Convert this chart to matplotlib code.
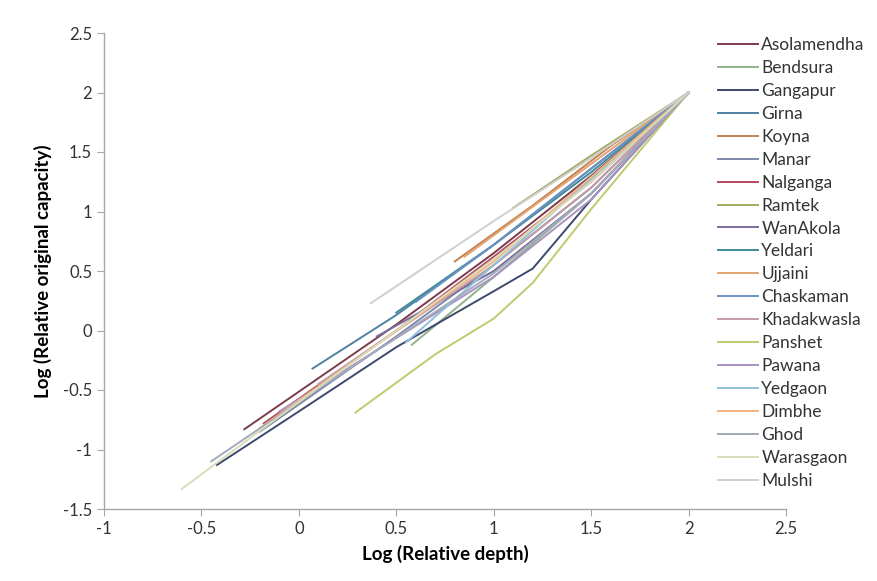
import matplotlib
matplotlib.use("Agg")
import matplotlib.pyplot as plt

names = ["Asolamendha", "Bendsura", "Gangapur", "Girna", "Koyna", "Manar", "Nalganga",
         "Ramtek", "WanAkola", "Yeldari", "Ujjaini", "Chaskaman", "Khadakwasla", "Panshet",
         "Pawana", "Yedgaon", "Dimbhe", "Ghod", "Warasgaon", "Mulshi"]

colors = ["#7b3c4c", "#8fb38a", "#3d4a6e", "#4f80a2", "#c5824e", "#7d8aab", "#b44a5c",
          "#a3aa62", "#7b6b9a", "#3f8c9c", "#e2a472", "#6b92c2", "#c49ca3", "#bccb6e",
          "#a991c2", "#8fc2da", "#f0b282", "#a2aabb", "#d9dcb8", "#cfcfcf"]

x_data = [
    [-0.28, 0.5, 1.0, 1.5, 2.0],            # Asolamendha
    [0.58, 1.0, 1.5, 2.0],                  # Bendsura
    [-0.42, 0.0, 0.5, 1.0, 1.2, 1.5, 2.0],  # Gangapur
    [0.07, 0.5, 1.0, 1.5, 2.0],             # Girna
    [0.8, 1.2, 1.6, 2.0],                   # Koyna
    [-0.2, 0.5, 1.0, 1.5, 2.0],             # Manar
    [-0.18, 0.5, 1.0, 1.5, 2.0],            # Nalganga
    [1.1, 1.5, 2.0],                        # Ramtek
    [0.4, 1.0, 1.5, 2.0],                   # WanAkola
    [0.5, 1.0, 1.5, 2.0],                   # Yeldari
    [0.85, 1.5, 2.0],                       # Ujjaini
    [0.6, 1.0, 1.5, 2.0],                   # Chaskaman
    [0.1, 1.0, 1.5, 2.0],                   # Khadakwasla
    [0.29, 0.7, 1.0, 1.2, 1.5, 2.0],        # Panshet
    [-0.1, 1.0, 1.5, 2.0],                  # Pawana
    [0.55, 1.0, 2.0],                       # Yedgaon
    [-0.2, 1.0, 2.0],                       # Dimbhe
    [-0.45, 0.0, 1.0, 1.5, 2.0],            # Ghod
    [-0.6, 0.0, 1.0, 1.5, 2.0],             # Warasgaon
    [0.37, 1.0, 1.5, 2.0],                  # Mulshi
]
y_data = [
    [-0.83, 0.05, 0.65, 1.3, 2.0],
    [-0.12, 0.45, 1.15, 2.0],
    [-1.13, -0.68, -0.14, 0.33, 0.52, 1.1, 2.0],
    [-0.32, 0.13, 0.72, 1.36, 2.0],
    [0.58, 1.05, 1.55, 2.0],
    [-0.85, -0.05, 0.55, 1.2, 2.0],
    [-0.78, 0.0, 0.62, 1.25, 2.0],
    [1.03, 1.47, 2.0],
    [-0.05, 0.5, 1.15, 2.0],
    [0.15, 0.72, 1.33, 2.0],
    [0.62, 1.4, 2.0],
    [0.24, 0.72, 1.36, 2.0],
    [-0.45, 0.55, 1.2, 2.0],
    [-0.69, -0.2, 0.1, 0.4, 1.02, 2.0],
    [-0.68, 0.45, 1.1, 2.0],
    [-0.1, 0.55, 2.0],
    [-0.82, 0.58, 2.0],
    [-1.1, -0.6, 0.48, 1.15, 2.0],
    [-1.33, -0.6, 0.6, 1.25, 2.0],
    [0.23, 0.92, 1.45, 2.0],
]

x_ticks = [-1, -0.5, 0, 0.5, 1, 1.5, 2, 2.5]
y_ticks = [-1.5, -1, -0.5, 0, 0.5, 1, 1.5, 2, 2.5]

plt.rcParams['font.family'] = ['Lato', 'DejaVu Sans']

fig = plt.figure(figsize=(8.77, 5.81), dpi=100)
ax = fig.add_axes([104/877, 1-509/581, (786-104)/877, (509-33)/581])

for n, c, xs, ys in zip(names, colors, x_data, y_data):
    ax.plot(xs, ys, color=c, lw=1.4, label=n)

ax.set_xlim(-1, 2.5)
ax.set_ylim(-1.5, 2.5)
ax.set_xticks(x_ticks)
ax.set_yticks(y_ticks)
ax.set_xticklabels([f"{t:g}" for t in x_ticks])
ax.set_yticklabels([f"{t:g}" for t in y_ticks])
for s in ["top", "right"]:
    ax.spines[s].set_visible(False)
for s in ["left", "bottom"]:
    ax.spines[s].set_color("#a6a6a6")
    ax.spines[s].set_linewidth(1.0)
ax.tick_params(direction="out", length=5, color="#a6a6a6", labelsize=12,
               labelcolor="#333333")

ax.set_xlabel("Log (Relative depth)", fontsize=13.5, fontweight="bold", labelpad=6)
ax.set_ylabel("Log (Relative original capacity)", fontsize=13.5, fontweight="bold", labelpad=8)

leg = ax.legend(loc="upper left", bbox_to_anchor=(718/877, 1-37/581),
                bbox_transform=fig.transFigure, frameon=False, fontsize=12.5,
                handlelength=2.3, handletextpad=0.2, labelspacing=0.40,
                borderaxespad=0, borderpad=0)
for t in leg.get_texts():
    t.set_color("#333333")

fig.savefig("out.png", dpi=100, facecolor="white")
